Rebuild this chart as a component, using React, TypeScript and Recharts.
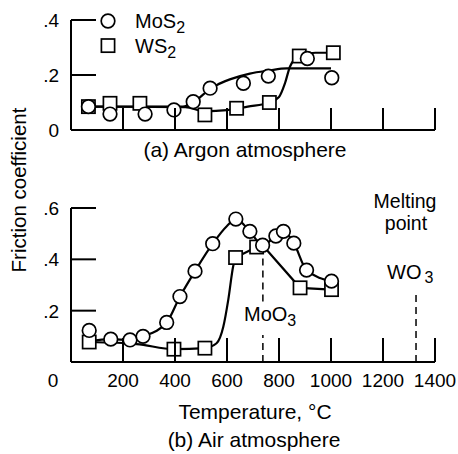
import React from 'react';
import { ComposedChart, Line, Scatter, XAxis, YAxis, ReferenceLine } from 'recharts';

// ---------- tick values ----------
const tempTicks = [0, 200, 400, 600, 800, 1000, 1200, 1400];
const argonFrictionTicks = [0, 0.2, 0.4];
const airFrictionTicks = [0.2, 0.4, 0.6];

// ---------- (a) Argon atmosphere ----------
const argonMoS2Temp = [67, 150, 285, 396, 470, 535, 663, 759, 909, 1003];
const argonMoS2Friction = [0.085, 0.058, 0.058, 0.073, 0.103, 0.152, 0.17, 0.196, 0.26, 0.19];
const argonWS2Temp = [67, 150, 265, 515, 637, 763, 878, 1009];
const argonWS2Friction = [0.085, 0.097, 0.097, 0.055, 0.079, 0.1, 0.269, 0.281];
const argonMoS2FitTemp = [67, 430, 470, 520, 560, 611, 688, 760, 830, 1000];
const argonMoS2FitFriction = [0.085, 0.085, 0.1, 0.138, 0.163, 0.184, 0.205, 0.216, 0.224, 0.224];
const argonWS2FitTemp = [67, 440, 515, 600, 680, 763, 800, 823, 842, 860, 878, 940, 1009];
const argonWS2FitFriction = [0.085, 0.083, 0.068, 0.072, 0.085, 0.1, 0.12, 0.17, 0.23, 0.258, 0.27, 0.281, 0.281];

// ---------- (b) Air atmosphere ----------
const airMoS2Temp = [70, 153, 227, 277, 368, 419, 477, 545, 634, 688, 737, 788, 817, 857, 906, 1002];
const airMoS2Friction = [0.123, 0.089, 0.086, 0.1, 0.154, 0.255, 0.354, 0.461, 0.557, 0.509, 0.455, 0.491, 0.509, 0.463, 0.358, 0.315];
const airWS2Temp = [70, 396, 515, 633, 714, 881, 1002];
const airWS2Friction = [0.078, 0.05, 0.054, 0.407, 0.448, 0.289, 0.282];
const airMoS2FitTemp = [70, 153, 227, 277, 368, 419, 477, 545, 600, 634, 688, 737, 788, 817, 857, 906, 1002];
const airMoS2FitFriction = [0.08, 0.089, 0.086, 0.1, 0.154, 0.255, 0.354, 0.461, 0.53, 0.557, 0.509, 0.455, 0.491, 0.509, 0.463, 0.358, 0.315];
const airWS2RiseTemp = [70, 253, 396, 515, 560, 586, 605, 624, 633];
const airWS2RiseFriction = [0.078, 0.07, 0.05, 0.054, 0.073, 0.138, 0.243, 0.374, 0.407];
const airWS2TailTemp = [633, 714, 737, 881, 1002];
const airWS2TailFriction = [0.407, 0.448, 0.455, 0.289, 0.282];

// melting points marked (°C)
const moO3Melt = 738;
const wO3Melt = 1327;

const zip = (ts: number[], fs: number[]) => ts.map((t, i) => ({ t, f: fs[i] }));

const FONT = '"Liberation Sans", Arial, Helvetica, sans-serif';
const INK = '#000';

const CircleMark = (p: any) => (
  <circle cx={p.cx} cy={p.cy} r={6.8} fill="#fff" stroke={INK} strokeWidth={1.7} />
);
const SquareMark = (p: any) => (
  <rect x={p.cx - 6.6} y={p.cy - 6.6} width={13.2} height={13.2} fill="#fff" stroke={INK} strokeWidth={1.7} />
);

const fmt = (v: number) => (v === 0 ? '0' : String(v).replace(/^0/, ''));

const YTick = (props: any) => {
  const { x, y, payload } = props;
  const v = payload.value;
  return (
    <g>
      {v !== 0 && <line x1={x} y1={y} x2={x + 25} y2={y} stroke={INK} strokeWidth={2} />}
      <text x={x - 12} y={y + 7} textAnchor="end" fontSize={19} fontFamily={FONT} fill={INK}>
        {fmt(v)}
      </text>
    </g>
  );
};

const XTickA = (props: any) => {
  const { x, y, payload } = props;
  if (payload.value === 0) return <g />;
  return <line x1={x} y1={y} x2={x} y2={y - 22} stroke={INK} strokeWidth={2} />;
};

const XTickB = (props: any) => {
  const { x, y, payload } = props;
  const v = payload.value;
  return (
    <g>
      {v !== 0 && <line x1={x} y1={y} x2={x} y2={y - 24} stroke={INK} strokeWidth={2} />}
      <text x={v === 0 ? x - 18 : x} y={y + 25} textAnchor="middle" fontSize={19} fontFamily={FONT} fill={INK}>
        {String(v)}
      </text>
    </g>
  );
};

const W = 458;
const H = 454;

export default function App() {
  const layer: React.CSSProperties = { position: 'absolute', left: 0, top: 0 };
  const dash = '7 5';
  return (
    <div style={{ position: 'absolute', left: 0, top: 0, width: W, height: H, background: '#fff' }}>
      {/* (a) Argon */}
      <div style={layer}>
        <ComposedChart width={W} height={H} margin={{ top: 20, right: 23, bottom: H - 131, left: 70 }}>
          <XAxis
            type="number"
            dataKey="t"
            domain={[0, 1400]}
            ticks={tempTicks}
            interval={0}
            height={1}
            tickSize={0}
            tickMargin={0}
            tickLine={false}
            axisLine={{ stroke: INK, strokeWidth: 2 }}
            tick={XTickA}
          />
          <YAxis
            type="number"
            domain={[0, 0.4]}
            ticks={argonFrictionTicks}
            interval={0}
            width={1}
            tickSize={0}
            tickMargin={0}
            tickLine={false}
            axisLine={{ stroke: INK, strokeWidth: 2 }}
            tick={YTick}
          />
          <Line data={zip(argonMoS2FitTemp, argonMoS2FitFriction)} dataKey="f" type="monotone" stroke={INK} strokeWidth={2.2} dot={false} isAnimationActive={false} />
          <Line data={zip(argonWS2FitTemp, argonWS2FitFriction)} dataKey="f" type="monotone" stroke={INK} strokeWidth={2.2} dot={false} isAnimationActive={false} />
          <Scatter data={zip(argonWS2Temp, argonWS2Friction)} dataKey="f" shape={SquareMark} isAnimationActive={false} />
          <Scatter data={zip(argonMoS2Temp, argonMoS2Friction)} dataKey="f" shape={CircleMark} isAnimationActive={false} />
        </ComposedChart>
      </div>

      {/* (b) Air */}
      <div style={layer}>
        <ComposedChart width={W} height={H} margin={{ top: 208, right: 23, bottom: H - 363, left: 70 }}>
          <XAxis
            type="number"
            dataKey="t"
            domain={[0, 1400]}
            ticks={tempTicks}
            interval={0}
            height={1}
            tickSize={0}
            tickMargin={0}
            tickLine={false}
            axisLine={{ stroke: INK, strokeWidth: 2 }}
            tick={XTickB}
          />
          <YAxis
            type="number"
            domain={[0, 0.6]}
            ticks={airFrictionTicks}
            interval={0}
            width={1}
            tickSize={0}
            tickMargin={0}
            tickLine={false}
            axisLine={{ stroke: INK, strokeWidth: 2 }}
            tick={YTick}
          />
          <ReferenceLine segment={[{ x: moO3Melt, y: 0 }, { x: moO3Melt, y: 0.105 }]} stroke={INK} strokeWidth={1.5} strokeDasharray={dash} />
          <ReferenceLine segment={[{ x: moO3Melt, y: 0.236 }, { x: moO3Melt, y: 0.42 }]} stroke={INK} strokeWidth={1.5} strokeDasharray={dash} />
          <ReferenceLine segment={[{ x: wO3Melt, y: 0 }, { x: wO3Melt, y: 0.263 }]} stroke={INK} strokeWidth={1.5} strokeDasharray={dash} />
          <Line data={zip(airMoS2FitTemp, airMoS2FitFriction)} dataKey="f" type="monotone" stroke={INK} strokeWidth={2.2} dot={false} isAnimationActive={false} />
          <Line data={zip(airWS2RiseTemp, airWS2RiseFriction)} dataKey="f" type="monotone" stroke={INK} strokeWidth={2.2} dot={false} isAnimationActive={false} />
          <Line data={zip(airWS2TailTemp, airWS2TailFriction)} dataKey="f" type="linear" stroke={INK} strokeWidth={2.2} dot={false} isAnimationActive={false} />
          <Scatter data={zip(airWS2Temp, airWS2Friction)} dataKey="f" shape={SquareMark} isAnimationActive={false} />
          <Scatter data={zip(airMoS2Temp, airMoS2Friction)} dataKey="f" shape={CircleMark} isAnimationActive={false} />
        </ComposedChart>
      </div>

      {/* text and legend */}
      <svg width={W} height={H} style={{ ...layer, pointerEvents: 'none' }} fontFamily={FONT} fill={INK}>
        <circle cx={108} cy={21} r={6.8} fill="#fff" stroke={INK} strokeWidth={1.7} />
        <text x={135} y={28} fontSize={20}>MoS<tspan fontSize={16} dy={5}>2</tspan></text>
        <rect x={101.4} y={39} width={13.2} height={13.2} fill="#fff" stroke={INK} strokeWidth={1.7} />
        <text x={135} y={53} fontSize={20}>WS<tspan fontSize={16} dy={5}>2</tspan></text>

        <text x={245} y={157} fontSize={21} textAnchor="middle">(a) Argon atmosphere</text>
        <text x={26} y={190} fontSize={20.5} textAnchor="middle" transform="rotate(-90 26 190)">Friction coefficient</text>

        <text x={405} y={207.5} fontSize={19.5} textAnchor="middle">Melting</text>
        <text x={406} y={229.5} fontSize={19.5} textAnchor="middle">point</text>
        <text x={387} y={279} fontSize={20}>WO<tspan fontSize={16} dx={3} dy={4}>3</tspan></text>
        <text x={244} y={321} fontSize={20}>MoO<tspan fontSize={16} dy={5}>3</tspan></text>

        <text x={255} y={419} fontSize={21} textAnchor="middle">Temperature, °C</text>
        <text x={254} y={447} fontSize={21} textAnchor="middle">(b) Air atmosphere</text>
      </svg>
    </div>
  );
}
